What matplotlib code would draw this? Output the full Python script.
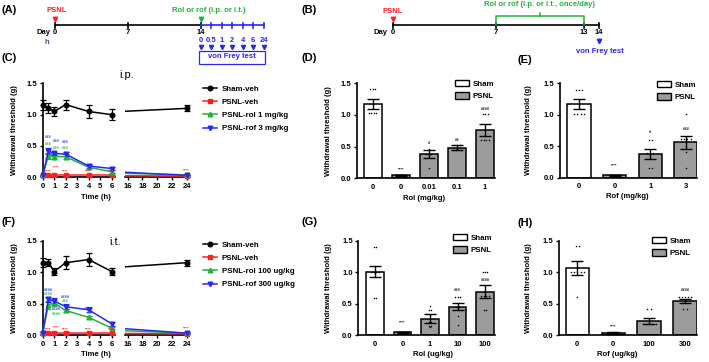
import numpy as np
import matplotlib
matplotlib.use("Agg")
import matplotlib.pyplot as plt
from matplotlib.lines import Line2D
from matplotlib.patches import Patch, Rectangle

plt.rcParams['font.family'] = ['Liberation Sans', 'DejaVu Sans']
plt.rcParams['font.weight'] = 'bold'
plt.rcParams['axes.labelweight'] = 'bold'

W, H = 709, 362
RED = '#ff1f1f'
GREEN = '#22b03c'
BLUE = '#2828f0'
GRAY = '#9c9c9c'

# ---- time course data (C = i.p., F = i.t.) ----
hours = [0, 0.5, 1, 2, 4, 6, 24]

ip_labels = ['Sham-veh', 'PSNL-veh', 'PSNL-rol 1 mg/kg', 'PSNL-rof 3 mg/kg']
ip_sham = [1.15, 1.10, 1.05, 1.16, 1.05, 1.00, 1.10]
ip_sham_err = [0.08, 0.08, 0.07, 0.08, 0.10, 0.09, 0.05]
ip_veh = [0.03, 0.03, 0.03, 0.03, 0.03, 0.03, 0.02]
ip_veh_err = [0.01, 0.01, 0.01, 0.01, 0.01, 0.01, 0.01]
ip_rol = [0.03, 0.34, 0.33, 0.33, 0.16, 0.09, 0.04]
ip_rol_err = [0.01, 0.05, 0.04, 0.04, 0.03, 0.02, 0.01]
ip_rof = [0.03, 0.42, 0.38, 0.37, 0.18, 0.14, 0.03]
ip_rof_err = [0.01, 0.05, 0.03, 0.03, 0.03, 0.02, 0.01]

it_labels = ['Sham-veh', 'PSNL-veh', 'PSNL-rol 100 ug/kg', 'PSNL-rof 300 ug/kg']
it_sham = [1.15, 1.15, 1.01, 1.15, 1.20, 1.01, 1.15]
it_sham_err = [0.07, 0.06, 0.06, 0.10, 0.10, 0.06, 0.05]
it_veh = [0.03, 0.03, 0.03, 0.03, 0.03, 0.03, 0.02]
it_veh_err = [0.01, 0.01, 0.01, 0.01, 0.01, 0.01, 0.01]
it_rol = [0.03, 0.48, 0.51, 0.39, 0.28, 0.11, 0.03]
it_rol_err = [0.01, 0.06, 0.05, 0.03, 0.03, 0.02, 0.01]
it_rof = [0.03, 0.57, 0.54, 0.45, 0.40, 0.18, 0.03]
it_rof_err = [0.01, 0.04, 0.05, 0.04, 0.04, 0.03, 0.01]

# significance marks (text, y position) for each time point
ip_veh_sig = ['', '****', '****', '****', '****', '****', '****']
ip_veh_sig_y = [0, 0.09, 0.16, 0.09, 0.09, 0.09, 0.11]
ip_rol_sig = ['', '###', '###', '###', '', '', '']
ip_rol_sig_y = [0, 0.53, 0.47, 0.46, 0, 0, 0]
ip_rof_sig = ['', '###', '###', '###', '', '', '']
ip_rof_sig_y = [0, 0.64, 0.58, 0.57, 0, 0, 0]

it_veh_sig = ['', '****', '****', '****', '****', '****', '****']
it_veh_sig_y = [0, 0.08, 0.12, 0.08, 0.08, 0.08, 0.10]
it_rol_sig = ['', '####', '####', '###', '##', '', '']
it_rol_sig_y = [0, 0.65, 0.33, 0.54, 0.35, 0, 0]
it_rof_sig = ['', '####', '####', '####', '####', '', '']
it_rof_sig_y = [0, 0.72, 0.41, 0.61, 0.42, 0, 0]

# ---- bar chart data ----
groups = ['Sham', 'PSNL']

rol_ip_cats = ['0', '0', '0.01', '0.1', '1']
rol_ip_mean = [1.17, 0.05, 0.38, 0.48, 0.76]
rol_ip_sem = [0.08, 0.01, 0.06, 0.04, 0.09]
rol_ip_pts = [[1.41, 1.41, 1.41, 1.03, 1.03, 1.03, 1.03],
              [0.06, 0.05, 0.05, 0.04, 0.05, 0.06, 0.04],
              [0.47, 0.38, 0.38, 0.37, 0.38, 0.16],
              [0.53, 0.53, 0.53, 0.44, 0.44, 0.44, 0.44],
              [1.02, 1.02, 1.02, 0.60, 0.60, 0.60, 0.60]]
rol_ip_sig = ['', '****', '#', '##', '####']
rol_ip_sig_y = [0, 0.14, 0.55, 0.60, 1.10]

rof_ip_cats = ['0', '0', '1', '3']
rof_ip_mean = [1.17, 0.04, 0.38, 0.56]
rof_ip_sem = [0.08, 0.01, 0.08, 0.10]
rof_ip_pts = [[1.40, 1.40, 1.40, 1.01, 1.01, 1.01, 1.01],
              [0.05, 0.04, 0.05, 0.04, 0.05, 0.03],
              [0.60, 0.60, 0.40, 0.40, 0.40, 0.15, 0.15],
              [1.02, 0.61, 0.61, 0.61, 0.61, 0.41, 0.16]]
rof_ip_sig = ['', '****', '#', '###']
rof_ip_sig_y = [0, 0.19, 0.72, 0.78]

rol_it_cats = ['0', '0', '1', '10', '100']
rol_it_mean = [1.01, 0.04, 0.26, 0.45, 0.69]
rol_it_sem = [0.09, 0.01, 0.07, 0.06, 0.10]
rol_it_pts = [[1.40, 1.40, 1.00, 1.00, 1.00, 1.00, 0.59, 0.59],
              [0.05, 0.03, 0.04, 0.05, 0.03, 0.04, 0.05, 0.04],
              [0.46, 0.40, 0.40, 0.20, 0.20, 0.15, 0.15, 0.12],
              [0.60, 0.60, 0.60, 0.44, 0.44, 0.30, 0.16],
              [1.01, 1.01, 1.01, 0.62, 0.62, 0.62, 0.62, 0.40, 0.40]]
rol_it_sig = ['', '****', '', '###', '####']
rol_it_sig_y = [0, 0.20, 0, 0.72, 0.87]

rof_it_cats = ['0', '0', '100', '300']
rof_it_mean = [1.06, 0.03, 0.22, 0.54]
rof_it_sem = [0.11, 0.01, 0.05, 0.03]
rof_it_pts = [[1.41, 1.41, 1.01, 1.01, 1.01, 1.01, 1.01, 0.61],
              [0.03, 0.03, 0.04, 0.03, 0.03, 0.04, 0.03],
              [0.41, 0.41, 0.17, 0.17, 0.17, 0.17, 0.17],
              [0.61, 0.61, 0.61, 0.61, 0.61, 0.41, 0.41]]
rof_it_sig = ['', '****', '', '####']
rof_it_sig_y = [0, 0.13, 0, 0.72]

# timeline text
a_hours = ['0', '0.5', '1', '2', '4', '6', '24']

fig = plt.figure(figsize=(W / 100, H / 100), dpi=100)


def box(x0, y0, x1, y1):
    return fig.add_axes([x0 / W, 1 - y1 / H, (x1 - x0) / W, (y1 - y0) / H])


def ftext(x, y, s, **kw):
    fig.text(x / W, 1 - y / H, s, **kw)


def style_axis(ax):
    for s in ['top', 'right']:
        ax.spines[s].set_visible(False)
    ax.spines['left'].set_linewidth(1.2)
    ax.spines['bottom'].set_linewidth(1.2)
    ax.tick_params(length=2.5, width=1, labelsize=5.5, pad=1.5)
    ax.set_ylim(0, 1.5)
    ax.set_yticks([0, 0.5, 1.0, 1.5])
    ax.set_yticklabels(['0.0', '0.5', '1.0', '1.5'])


# ---------------- (A) timeline ----------------
axA = box(0, 0, 300, 66)
axA.set_xlim(-55 / 10.43, 245 / 10.43)
axA.set_ylim(66, 0)
axA.axis('off')
axA.plot([0, 14], [25, 25], color='k', lw=1.2)
for d in [0, 7, 14]:
    axA.plot([d, d], [22.5, 27.5], color='k', lw=1.2)
    axA.text(d, 33, str(d), ha='center', va='center', fontsize=5.5)
axA.text(-1.15, 33, 'Day', ha='center', va='center', fontsize=5.5)
axA.text(-0.77, 43, 'h', ha='center', va='center', fontsize=5.5, color='#3a4f9a')
hpos = [14 + i for i in range(len(a_hours))]
axA.plot([14, hpos[-1]], [25, 25], color=BLUE, lw=1.2)
for p, lab in zip(hpos, a_hours):
    axA.plot([p, p], [22.5, 27.5], color=BLUE, lw=1.2)
    axA.text(p, 40.5, lab, ha='center', va='center', fontsize=5.5, color=BLUE)
    axA.plot(p, 47, marker='v', color=BLUE, ms=3)
axA.add_patch(Rectangle((13.8, 50.5), 6.35, 13, fill=False, edgecolor=BLUE, lw=0.9))
axA.text(17.0, 57, 'von Frey test', ha='center', va='center', fontsize=5.5, color=BLUE)
axA.text(0.2, 10.5, 'PSNL', ha='center', va='center', fontsize=5.5, color=RED)
axA.plot(0, 19, marker='v', color=RED, ms=3.2)
axA.text(14.77, 10.5, 'Rol or rof (i.p. or i.t.)', ha='center', va='center',
         fontsize=5.5, color=GREEN)
axA.plot(14, 19, marker='v', color=GREEN, ms=3.2)

# ---------------- (B) timeline ----------------
pxd = 14.69
axB = box(300, 0, 709, 66)
axB.set_xlim(-93 / pxd, 316 / pxd)
axB.set_ylim(66, 0)
axB.axis('off')
axB.plot([0, 14], [25, 25], color='k', lw=1.2)
for d in [0, 7, 13, 14]:
    axB.plot([d, d], [22.5, 27.5], color='k', lw=1.2)
    axB.text(d, 33, str(d), ha='center', va='center', fontsize=5.5)
axB.text(-0.35, 33, 'Day', ha='right', va='center', fontsize=5.5)
axB.text(0, 11.5, 'PSNL', ha='center', va='center', fontsize=5.5, color=RED)
axB.plot(0, 19, marker='v', color=RED, ms=3.2)
axB.plot([7, 7, 13, 13], [25, 16, 16, 25], color=GREEN, lw=1.1)
axB.plot([10, 10], [16, 12.5], color=GREEN, lw=1.1)
axB.text(10, 5, 'Rol or rof (i.p. or i.t., once/day)', ha='center', va='center',
         fontsize=5.5, color=GREEN)
axB.plot(14, 41, marker='v', color=BLUE, ms=3.2)
axB.text(14.1, 51.7, 'von Frey test', ha='center', va='center', fontsize=5.5,
         color=BLUE)


# ---------------- time course panels ----------------
def time_panel(top, bottom, labels, series, sigs, title, title_xy, leg_y):
    ax1 = box(42.7, top, 115, bottom)
    ax2 = box(125, top, 188.3, bottom)
    style_axis(ax1)
    style_axis(ax2)
    ax1.set_xlim(0, 6.29)
    ax1.set_xticks(range(7))
    ax2.set_xlim(15.63, 24.22)
    ax2.set_xticks([16, 18, 20, 22, 24])
    ax2.spines['left'].set_visible(False)
    ax2.tick_params(axis='y', left=False, labelleft=False)

    styles = [('k', 'o'), (RED, 's'), (GREEN, '^'), (BLUE, 'v')]
    handles = []
    for (vals, errs), (c, m), lab in zip(series, styles, labels):
        h = np.array(hours, dtype=float)
        v = np.array(vals)
        e = np.array(errs)
        early = h <= 6
        ax1.errorbar(h[early], v[early], yerr=e[early], color=c, marker=m, ms=3.3,
                     lw=1.1, elinewidth=0.9, capsize=2.0, capthick=0.9, clip_on=False,
                     zorder=3)
        ax2.plot(h, v, color=c, lw=1.1, zorder=3)
        ax2.errorbar(h[~early], v[~early], yerr=e[~early], color=c, marker=m, ms=3.3,
                     lw=0, elinewidth=0.9, capsize=2.0, capthick=0.9, clip_on=False,
                     zorder=3)
        handles.append(Line2D([], [], color=c, marker=m, ms=3.3, lw=1.1))

    for (txts, ys), c in zip(sigs, [RED, GREEN, BLUE]):
        for t, y, s in zip(hours, ys, txts):
            if not s:
                continue
            ax = ax1 if t <= 6 else ax2
            tx = t + 0.2 if t == 1 else t
            ax.text(tx, y, s, color=c, fontsize=3.0, ha='center', va='center',
                    zorder=4)

    ftext(title_xy[0], title_xy[1], title, fontsize=8, fontweight='normal',
          ha='center', va='center')
    ftext(15, (top + bottom) / 2, 'Withdrawal threshold (g)', rotation=90,
          fontsize=5.5, ha='center', va='center')
    ftext(96, bottom + 20, 'Time (h)', fontsize=5.5, ha='center', va='center')
    ax1.legend(handles, labels, loc='upper left', frameon=False,
               bbox_to_anchor=(203 / W, 1 - (leg_y - 4.5) / H),
               bbox_transform=fig.transFigure, fontsize=5.7, handlelength=1.8,
               handletextpad=0.6, labelspacing=0.7, borderpad=0, borderaxespad=0)


time_panel(83.3, 177.3, ip_labels,
           [(ip_sham, ip_sham_err), (ip_veh, ip_veh_err),
            (ip_rol, ip_rol_err), (ip_rof, ip_rof_err)],
           [(ip_veh_sig, ip_veh_sig_y), (ip_rol_sig, ip_rol_sig_y),
            (ip_rof_sig, ip_rof_sig_y)],
           'i.p.', (127, 75), 90)
time_panel(240.7, 335, it_labels,
           [(it_sham, it_sham_err), (it_veh, it_veh_err),
            (it_rol, it_rol_err), (it_rof, it_rof_err)],
           [(it_veh_sig, it_veh_sig_y), (it_rol_sig, it_rol_sig_y),
            (it_rof_sig, it_rof_sig_y)],
           'i.t.', (115, 242), 246)


# ---------------- bar panels ----------------
def bar_panel(x0, top, x1, bottom, first_px, step_px, cats, means, sems, pts,
              sigs, sig_ys, xlabel, xlabel_xy, ylabel_x, leg_xy):
    ax = box(x0, top, x1, bottom)
    style_axis(ax)
    ax.set_xlim((x0 - first_px) / step_px, (x1 - first_px) / step_px)
    pos = np.arange(len(cats))
    colors = ['white'] + [GRAY] * (len(cats) - 1)
    ax.bar(pos, means, width=0.65, color=colors, edgecolor='k', linewidth=1.1,
           zorder=2)
    ax.errorbar(pos, means, yerr=sems, fmt='none', ecolor='k', elinewidth=1.0,
                capsize=4.0, capthick=1.0, zorder=3)
    for p, vals in zip(pos, pts):
        vals = np.array(vals)
        for u in np.unique(vals):
            n = np.sum(vals == u)
            xs = p + (np.arange(n) - (n - 1) / 2) * 0.09
            ax.scatter(xs, [u] * n, s=1.2, color='k', zorder=4, linewidths=0,
                       clip_on=False)
    for p, s, y in zip(pos, sigs, sig_ys):
        if s:
            ax.text(p, y, s, fontsize=3.0, ha='center', va='center', zorder=4)
    ax.set_xticks(pos)
    ax.set_xticklabels(cats)
    ax.tick_params(axis='x', length=0, pad=4)
    ftext(xlabel_xy[0], xlabel_xy[1], xlabel, fontsize=5.5, ha='center',
          va='center')
    ftext(ylabel_x, (top + bottom) / 2, 'Withdrawal threshold (g)', rotation=90,
          fontsize=5.5, ha='center', va='center')
    handles = [Patch(facecolor='white', edgecolor='k', lw=1.0),
               Patch(facecolor=GRAY, edgecolor='k', lw=1.0)]
    ax.legend(handles, groups, loc='upper left', frameon=False,
              bbox_to_anchor=(leg_xy[0] / W, 1 - (leg_xy[1] - 4.5) / H),
              bbox_transform=fig.transFigure, fontsize=5.7, handlelength=1.8,
              handleheight=0.9, handletextpad=0.45, labelspacing=0.6,
              borderpad=0, borderaxespad=0)


bar_panel(356.7, 83.3, 495, 178.3, 372.7, 28.1, rol_ip_cats, rol_ip_mean,
          rol_ip_sem, rol_ip_pts, rol_ip_sig, rol_ip_sig_y, 'Rol (mg/kg)',
          (424, 198), 328, (455, 84))
bar_panel(560, 83.3, 697, 177.7, 579, 35.6, rof_ip_cats, rof_ip_mean,
          rof_ip_sem, rof_ip_pts, rof_ip_sig, rof_ip_sig_y, 'Rof (mg/kg)',
          (627, 197), 528, (657, 85))
bar_panel(358.3, 240.7, 495, 335, 375, 27.5, rol_it_cats, rol_it_mean,
          rol_it_sem, rol_it_pts, rol_it_sig, rol_it_sig_y, 'Rol (ug/kg)',
          (433, 355), 328, (453, 238))
bar_panel(559, 240.7, 697, 335, 577.3, 35.9, rof_it_cats, rof_it_mean,
          rof_it_sem, rof_it_pts, rof_it_sig, rof_it_sig_y, 'Rof (ug/kg)',
          (617, 355), 529, (652, 241))

# panel letters
for lab, x, y in [('(A)', 9, 10), ('(B)', 309, 10), ('(C)', 9, 58),
                  ('(D)', 309, 58), ('(E)', 525, 60), ('(F)', 9, 222),
                  ('(G)', 309, 222), ('(H)', 525, 223)]:
    ftext(x, y, lab, fontsize=8, ha='center', va='center')

fig.savefig('out.png', dpi=100)
